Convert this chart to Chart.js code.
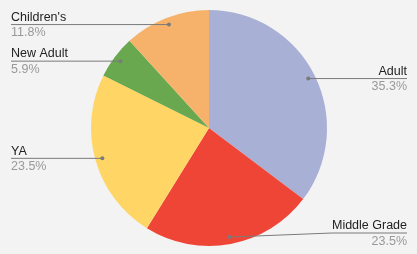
<!DOCTYPE html>
<html>
<head>
<meta charset="utf-8">
<script src="https://cdn.jsdelivr.net/npm/chart.js@4"></script>
<style>
  html, body { margin: 0; padding: 0; background: #f3f3f3; }
  #wrap { width: 417px; height: 254px; }
</style>
</head>
<body>
<div id="wrap"><canvas id="pie"></canvas></div>
<script>
const categories = ["Adult", "Middle Grade", "YA", "New Adult", "Children's"];
const counts = [6, 4, 4, 1, 2];
const colors = ["#a9b0d5", "#ee4537", "#ffd666", "#69a84f", "#f6b26b"];

// labels outside the pie, with leader lines
const outsideLabels = {
  id: "outsideLabels",
  afterDraw(chart) {
    const ctx = chart.ctx;
    const arcs = chart.getDatasetMeta(0).data;
    const total = counts.reduce((a, b) => a + b, 0);
    const W = chart.width, H = chart.height;
    ctx.save();
    arcs.forEach((arc, i) => {
      const mid = (arc.startAngle + arc.endAngle) / 2;
      const r = arc.outerRadius;
      const dx = arc.x + Math.cos(mid) * r * 0.94;
      const dy = arc.y + Math.sin(mid) * r * 0.94;
      const right = Math.cos(mid) > 0;
      const ly = Math.min(Math.max(dy, 24), H - 21);
      const elbowX = right ? arc.x + r + 5 : arc.x - r - 6;
      const endX = right ? W - 10 : 11;

      ctx.strokeStyle = "#7a7a7a";
      ctx.lineWidth = 1;
      ctx.beginPath();
      ctx.moveTo(dx, dy);
      ctx.lineTo(elbowX, ly);
      ctx.lineTo(endX, ly);
      ctx.stroke();

      ctx.fillStyle = "#7a7a7a";
      ctx.beginPath();
      ctx.arc(dx, dy, 2, 0, Math.PI * 2);
      ctx.fill();

      ctx.textAlign = right ? "right" : "left";
      ctx.font = "12.5px 'Liberation Sans', Arial, sans-serif";
      ctx.fillStyle = "#222";
      ctx.textBaseline = "bottom";
      ctx.fillText(categories[i], endX, ly - 1);
      ctx.fillStyle = "#999";
      ctx.textBaseline = "top";
      const pct = (counts[i] / total * 100).toFixed(1) + "%";
      ctx.fillText(pct, endX, ly + 2);
    });
    ctx.restore();
  }
};

new Chart(document.getElementById("pie"), {
  type: "pie",
  data: {
    labels: categories,
    datasets: [{
      data: counts,
      backgroundColor: colors,
      borderWidth: 0
    }]
  },
  options: {
    responsive: true,
    maintainAspectRatio: false,
    animation: false,
    layout: { padding: { top: 10, bottom: 8, left: 91, right: 90 } },
    plugins: {
      legend: { display: false },
      tooltip: { enabled: false }
    }
  },
  plugins: [outsideLabels]
});
</script>
</body>
</html>
